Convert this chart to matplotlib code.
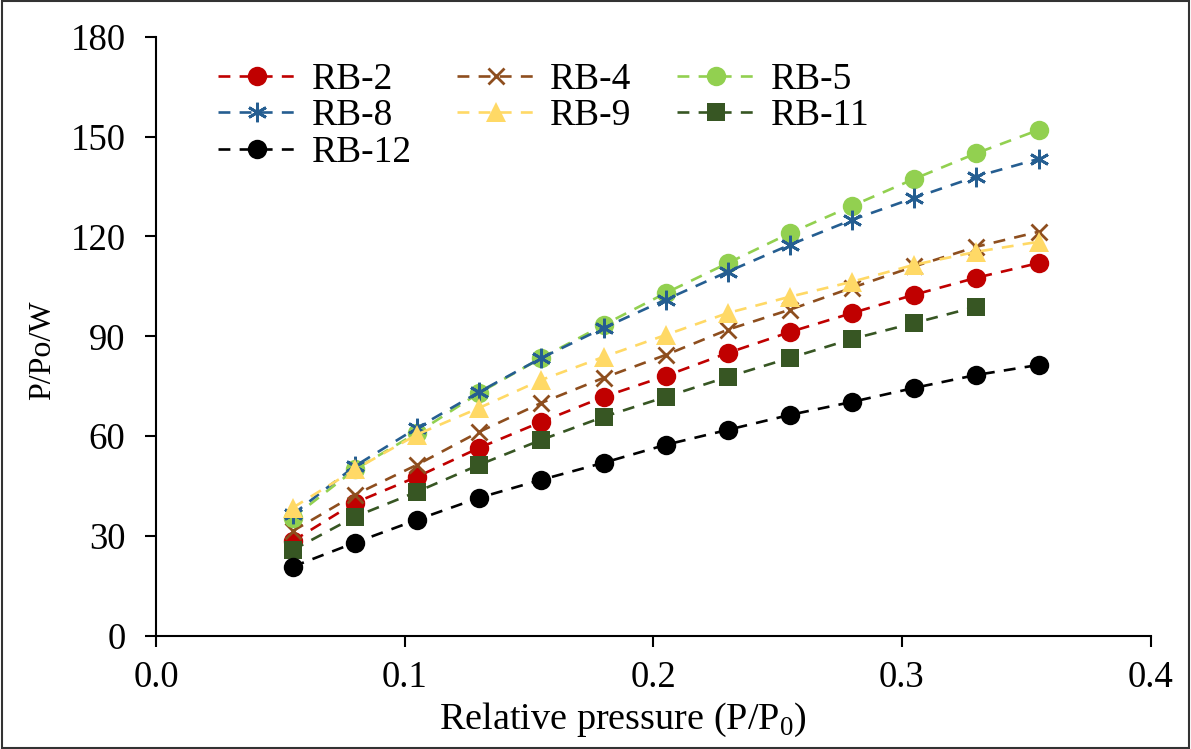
import matplotlib
matplotlib.use("Agg")
import matplotlib.pyplot as plt
from matplotlib.patches import Rectangle

plt.rcParams['font.family'] = ['Liberation Serif', 'DejaVu Serif']
plt.rcParams['mathtext.fontset'] = 'custom'
plt.rcParams['mathtext.rm'] = 'Liberation Serif'

# relative pressure steps
x = [0.055, 0.08, 0.105, 0.13, 0.155, 0.18, 0.205, 0.23, 0.255, 0.28, 0.305, 0.33, 0.355]

rb2 = [28.5, 40, 47.8, 56.5, 64.3, 71.8, 78.1, 85, 91.3, 97, 102.5, 107.6, 112]
rb4 = [31.5, 42.4, 51.4, 61.3, 70, 77.5, 84.4, 92, 98, 104.6, 111, 116.9, 121.4]
rb5 = [35.5, 50, 61, 73, 83.5, 93.4, 103, 112, 121, 129.2, 137.3, 145, 152]
rb8 = [36.5, 51, 62.5, 73.3, 83.5, 92.5, 101, 109.4, 117.5, 125, 131.6, 138, 143.3]
rb9 = [38.5, 50, 60.5, 68.5, 76.9, 83.8, 90.4, 97, 101.9, 106.4, 111.5, 115.4, 118.4]
rb11 = [25.8, 35.8, 43.3, 51.4, 58.9, 65.8, 71.8, 77.8, 83.5, 89.2, 94, 98.9]
rb12 = [20.8, 28, 34.9, 41.5, 46.9, 52, 57.4, 61.9, 66.4, 70.3, 74.5, 78.4, 81.4]

series = [
    ('RB-2', rb2, '#C00000', 'o', 14),
    ('RB-4', rb4, '#8E4E1E', 'x', 12),
    ('RB-5', rb5, '#92D050', 'o', 14),
    ('RB-8', rb8, '#255E91', (6, 2, 0), 14),
    ('RB-9', rb9, '#FFD966', '^', 14),
    ('RB-11', rb11, '#375623', 's', 13),
    ('RB-12', rb12, '#000000', 'o', 14),
]

fig = plt.figure(figsize=(11.91, 7.49), dpi=100)
ax = fig.add_axes([0.131, 0.151, 0.835, 0.80])

lines = {}
for name, ys, col, mk, ms in series:
    stroke = mk == 'x' or isinstance(mk, tuple)
    ln, = ax.plot(x[:len(ys)], ys, linestyle=(0, (4.5, 3.5)), color=col, lw=1.9,
                  marker=mk, markersize=ms, markeredgewidth=2 if stroke else 0,
                  markerfacecolor=col, markeredgecolor=col, label=name)
    lines[name] = ln

ax.set_xlim(0, 0.4)
ax.set_ylim(0, 180)
ax.set_xticks([0.0, 0.1, 0.2, 0.3, 0.4])
ax.set_xticklabels(['0.0', '0.1', '0.2', '0.3', '0.4'])
ax.set_yticks(range(0, 181, 30))
ax.tick_params(axis='both', direction='out', length=8, width=1.5, labelsize=26.5)
ax.tick_params(axis='x', pad=10)
ax.tick_params(axis='y', pad=14)
ax.spines['top'].set_visible(False)
ax.spines['right'].set_visible(False)
for s in ('left', 'bottom'):
    ax.spines[s].set_linewidth(1.5)

ax.set_xlabel('Relative pressure (P/P$_0$)', fontsize=27.5)
ax.xaxis.set_label_coords(0.469, -0.108)
ax.set_ylabel('P/Po/W', fontsize=23)
ax.yaxis.set_label_coords(-0.099, 0.476)

# legend filled row by row like the original
order = ['RB-2', 'RB-8', 'RB-12', 'RB-4', 'RB-9', 'RB-5', 'RB-11']
ax.legend([lines[n] for n in order], order, loc='upper left', ncol=3, frameon=False,
          fontsize=27, handlelength=2.1, handletextpad=0.4, columnspacing=1.2,
          labelspacing=0.05, borderpad=0, borderaxespad=0, bbox_to_anchor=(0.062, 0.957))

fig.add_artist(Rectangle((0.002, 0.002), 0.996, 0.996, transform=fig.transFigure,
                         fill=False, edgecolor='#333333', lw=1.5))

fig.savefig('out.png', dpi=100)
